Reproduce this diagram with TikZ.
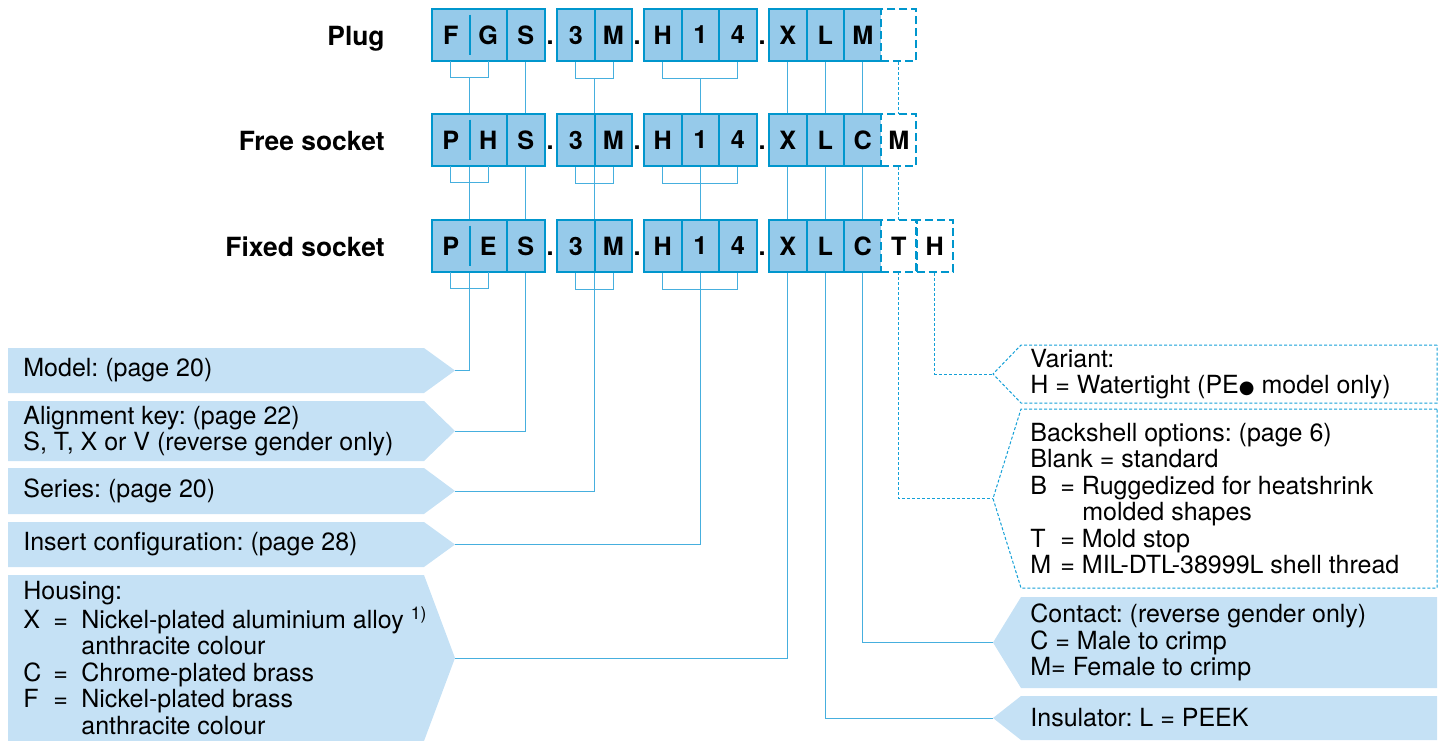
\documentclass[tikz,border=0pt]{standalone}
\usepackage{fontspec}
\setmainfont{TeX Gyre Heros}
\newfontfamily\dejavu{DejaVu Sans}
\usetikzlibrary{positioning,calc,backgrounds}
\definecolor{cellB}{RGB}{150,202,234}
\definecolor{edgeB}{RGB}{0,150,205}
\definecolor{wireB}{RGB}{70,175,222}
\definecolor{dashB}{RGB}{20,160,215}
\definecolor{tagB}{RGB}{197,225,245}
\newcommand{\eqpre}[2][1.2em]{\makebox[#1][l]{#2}}
\frenchspacing

\begin{document}
\begin{tikzpicture}[x=0.5pt,y=-0.5pt,
  txt/.style={font=\fontsize{12.5}{13.2}\selectfont},
  cellfill/.style={fill=cellB, minimum width=18.75pt, minimum height=26pt, inner sep=0pt, font=\fontsize{12.6}{13}\selectfont\bfseries},
  cell/.style={cellfill, draw=edgeB, line width=1pt},
  xcell/.style={cell, fill=white, dash pattern=on 4pt off 2pt, minimum width=17.5pt},
  edge/.style={draw=edgeB, line width=1pt},
  wire/.style={draw=wireB, line width=0.5pt},
  dwire/.style={draw=dashB, line width=0.5pt, dash pattern=on 1.5pt off 1pt},
  rtagd/.style={dwire},
  rtagf/.style={fill=tagB},
  tagtext/.style={txt, anchor=west, align=left, inner sep=0pt},
  dotlbl/.style={anchor=base, inner sep=0pt, font=\fontsize{12.6}{13}\selectfont\bfseries},
  rowlbl/.style={anchor=base east, inner sep=0pt, font=\fontsize{13.2}{13}\selectfont\bfseries}]
  \useasboundingbox (0,0) rectangle (1440,740);

  % the three order codes
  \foreach \r/\y/\a/\b/\k/\e/\lbl in {pl/35/F/G/M/{}/Plug, fs/140/P/H/C/M/Free socket, fx/246/P/E/C/T/Fixed socket}{
    \node[rowlbl] (\r-lbl) at (385,\y+10) {\lbl};
    \node[cellfill] (\r1) at (450.75,\y) {\a};
    \node[cellfill] (\r2) at (488.25,\y) {\b};
    \draw[edge] (\r1.north west) rectangle (\r2.south east);
    \draw[edge] ([yshift=-3pt]\r1.north east) -- ([yshift=3pt]\r1.south east);
    \foreach \i/\x/\t in {3/525.75/S, 4/575.75/3, 5/613.25/M, 6/662.75/H, 7/700.25/1, 8/737.75/4, 9/787.75/X, 10/825.25/L, 11/862.75/\k}
      \node[cell] (\r\i) at (\x,\y) {\t};
    \node[xcell] (\r12) at (898.75,\y) {\e};
    \foreach \j/\x in {1/550, 2/637, 3/762}
      \node[dotlbl] (\r-d\j) at (\x,\y+9) {.};
    \draw[wire] (\r1.south) -- ++(0,16) -| (\r2.south);
    \draw[wire] (\r4.south) -- ++(0,16) -| (\r5.south);
    \draw[wire] (\r6.south) -- ++(0,16) -| (\r8.south);
    \coordinate (\r-k1) at ($(\r1.south)!0.5!(\r2.south)+(0,16)$);
    \coordinate (\r-k2) at ($(\r4.south)!0.5!(\r5.south)+(0,16)$);
    \coordinate (\r-k3) at ($(\r6.south)!0.5!(\r8.south)+(0,16)$);
  }
  \node[xcell, minimum width=18pt] (fx13) at (934.75,246) {H};

  % left tags
  \foreach \n/\t/\b/\txt in {model/348/393/{Model: (page 20)},
      align/401/461/{Alignment key: (page 22)\\S, T, X or V (reverse gender only)},
      series/468/514/{Series: (page 20)},
      insert/522/567/{Insert configuration: (page 28)},
      housing/575/741/{Housing:\\\eqpre{X}\eqpre[1.12em]{=}Nickel-plated aluminium alloy \textsuperscript{1)}\\\hspace*{2.32em}anthracite colour\\\eqpre{C}\eqpre[1.12em]{=}Chrome-plated brass\\\eqpre{F}\eqpre[1.12em]{=}Nickel-plated brass\\\hspace*{2.32em}anthracite colour}}{
    \fill[tagB] (8,\t) -- (424,\t) -- (455,{(\t+\b)/2}) -- (424,\b) -- (8,\b) -- cycle;
    \node[tagtext] (\n) at (23,{(\t+\b)/2}) {\txt};
    \coordinate (\n-tip) at (455,{(\t+\b)/2});
  }

  % right tags
  \foreach \n/\t/\b/\s/\txt in {variant/345/403/rtagd/{Variant:\\H = Watertight (PE{\dejavu\fontsize{9}{9}\selectfont ●} model only)},
      backshell/409/588/rtagd/{Backshell options: (page 6)\\Blank = standard\\\eqpre{B}= Ruggedized for heatshrink\\\hspace*{2.08em}molded shapes\\\eqpre{T}= Mold stop\\\eqpre{M}= MIL-DTL-38999L shell thread},
      contact/597/688/rtagf/{Contact: (reverse gender only)\\C = Male to crimp\\M= Female to crimp},
      insulator/696/740/rtagf/{Insulator: L = PEEK}}{
    \path[\s] (1437,\t) -- (1021,\t) -- (993,{(\t+\b)/2}) -- (1021,\b) -- (1437,\b) -- cycle;
    \node[tagtext] (\n) at (1030,{(\t+\b)/2}) {\txt};
    \coordinate (\n-tip) at (993,{(\t+\b)/2});
  }

  \begin{scope}[on background layer]
    \draw[wire] (pl-k1) |- (model-tip);
    \draw[wire] (pl3.south) |- (align-tip);
    \draw[wire] (pl-k2) |- (series-tip);
    \draw[wire] (pl-k3) |- (insert-tip);
    \draw[wire] (pl9.south) |- (housing-tip);
    \draw[wire] (pl10.south) |- (insulator-tip);
    \draw[wire] (pl11.south) |- (contact-tip);
    \draw[dwire] (pl12.south) |- (backshell-tip);
    \draw[dwire] (fx13.south) |- (variant-tip);
  \end{scope}
\end{tikzpicture}
\end{document}
